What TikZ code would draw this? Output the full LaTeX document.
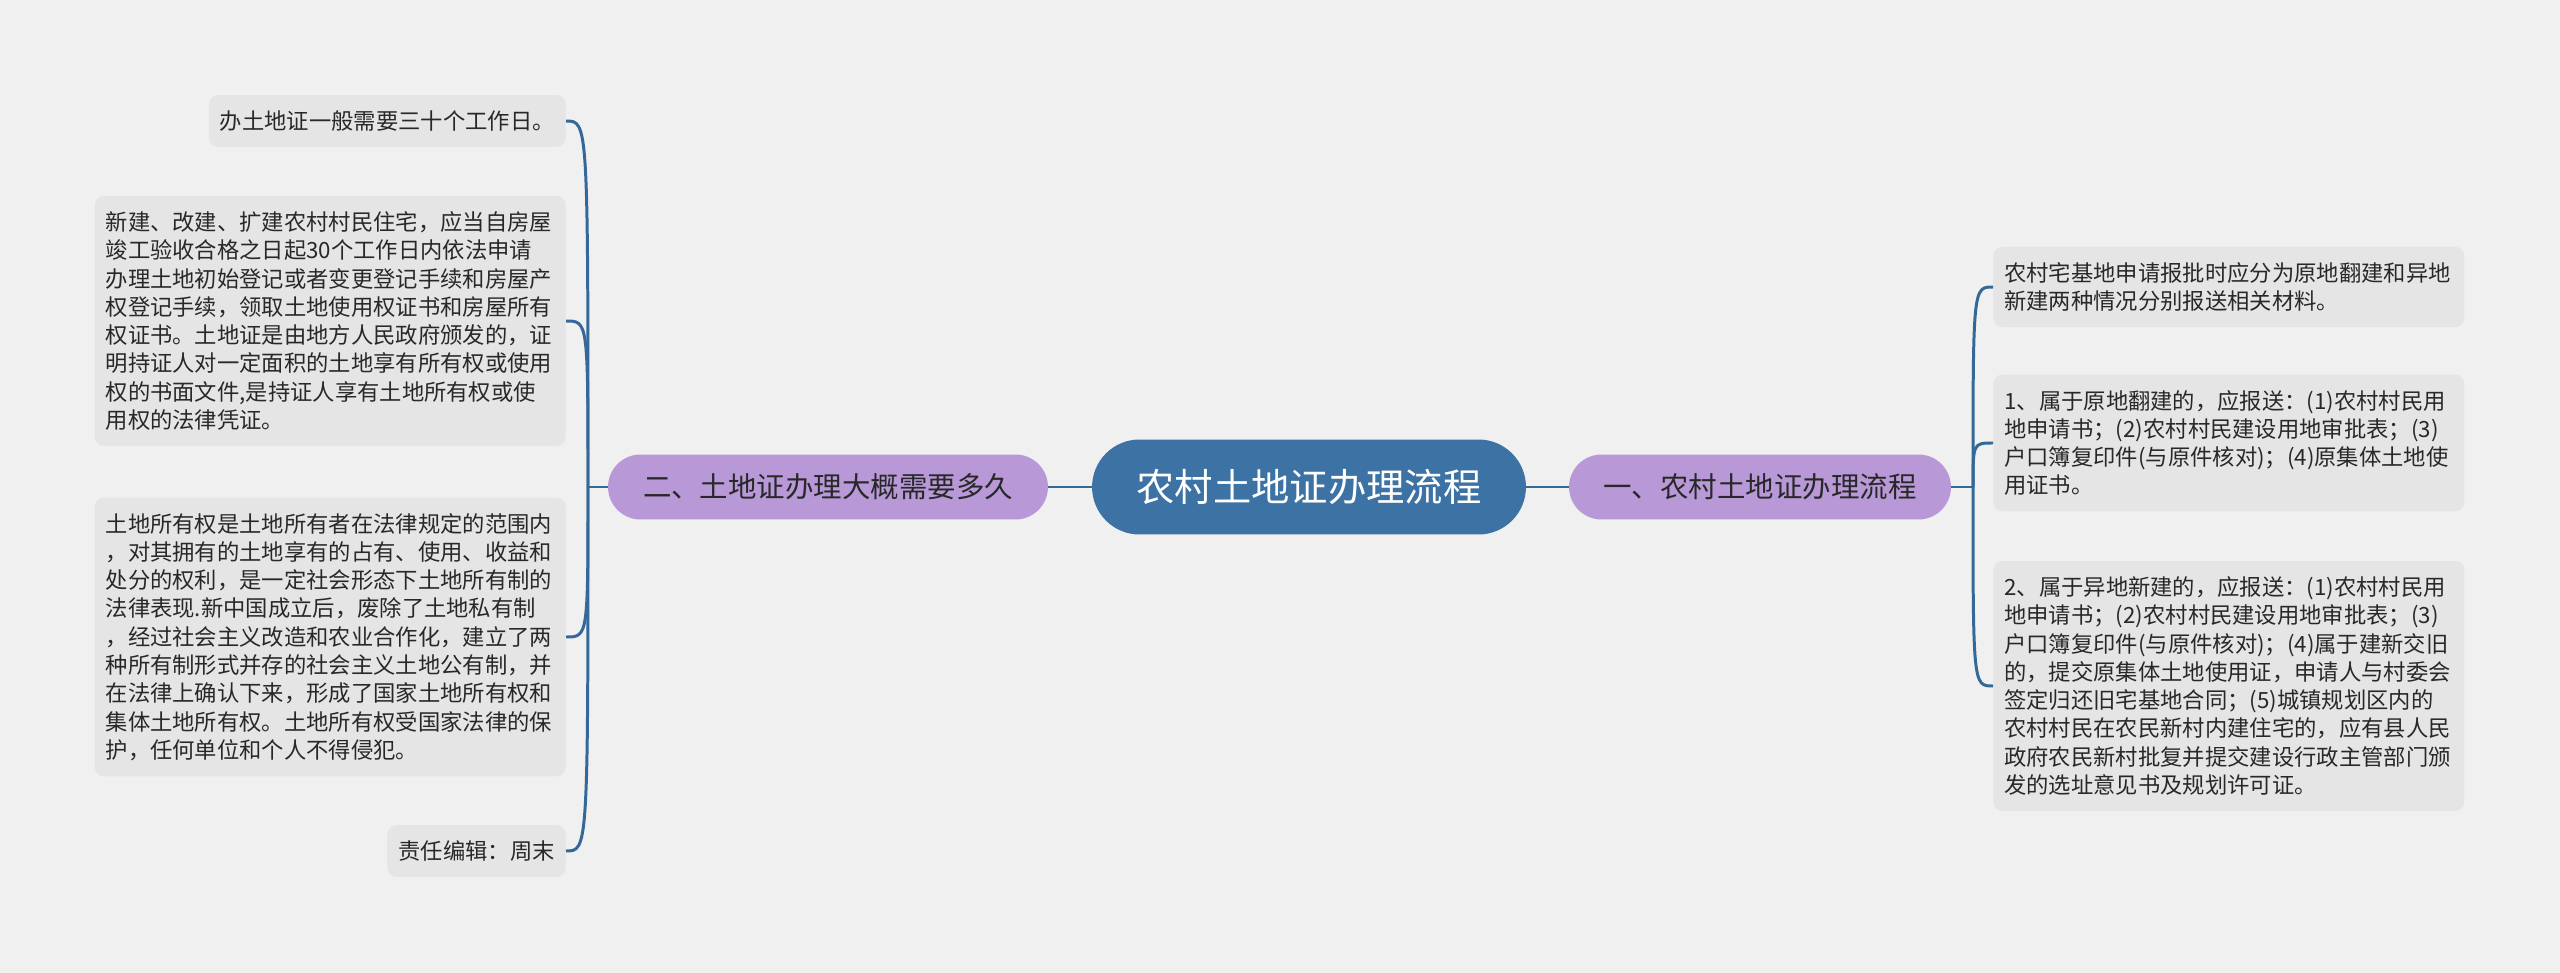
\documentclass[tikz,border=0pt]{standalone}
\usepackage{fontspec}
\setmainfont{Noto Sans CJK SC}
\usepackage{tikz}
\usetikzlibrary{positioning}
\usepackage{xcolor}
\definecolor{bgray}{RGB}{240,240,240}
\definecolor{leafgray}{RGB}{229,229,229}
\definecolor{rootblue}{RGB}{60,114,164}
\definecolor{lavender}{RGB}{184,152,215}
\definecolor{linkblue}{RGB}{52,104,152}
\definecolor{txtdark}{RGB}{40,40,40}

\begin{document}
\begin{tikzpicture}[x=0.02cm,y=-0.02cm,
leaf/.style={fill=leafgray,rounded corners=0.18cm,inner xsep=0.22cm,inner ysep=0.31cm,
  text=txtdark,font=\fontsize{12.7}{16.1}\selectfont},
para/.style={leaf,text width=8.98cm,align=left},
branch/.style={fill=lavender,rounded corners=0.65cm,minimum height=1.3cm,
  text=txtdark,font=\fontsize{16.2}{18}\selectfont},
link/.style={draw=linkblue,line width=1.7pt}]
\fill[bgray] (0,0) rectangle (2560,973);
% centre and the two main topics
\node[fill=rootblue,rounded corners=0.95cm,minimum width=8.68cm,minimum height=1.9cm,
  text=white,font=\fontsize{21.8}{24}\selectfont] (root) at (1309,487) {农村土地证办理流程};
\node[branch,minimum width=8.8cm] (lb) at (828,487) {二、土地证办理大概需要多久};
\node[branch,minimum width=7.64cm] (rb) at (1760,487) {一、农村土地证办理流程};
\coordinate (jl) at (588,487);
\coordinate (jr) at (1973,487);
% left leaves
\node[leaf,anchor=east] (l1) at (566,121) {办土地证一般需要三十个工作日。};
\node[para,anchor=east] (l2) at (566,321) {新建、改建、扩建农村村民住宅，应当自房屋\\
竣工验收合格之日起30个工作日内依法申请\\
办理土地初始登记或者变更登记手续和房屋产\\
权登记手续，领取土地使用权证书和房屋所有\\
权证书。土地证是由地方人民政府颁发的，证\\
明持证人对一定面积的土地享有所有权或使用\\
权的书面文件,是持证人享有土地所有权或使\\
用权的法律凭证。};
\node[para,anchor=east] (l3) at (566,637) {土地所有权是土地所有者在法律规定的范围内\\
，对其拥有的土地享有的占有、使用、收益和\\
处分的权利，是一定社会形态下土地所有制的\\
法律表现.新中国成立后，废除了土地私有制\\
，经过社会主义改造和农业合作化，建立了两\\
种所有制形式并存的社会主义土地公有制，并\\
在法律上确认下来，形成了国家土地所有权和\\
集体土地所有权。土地所有权受国家法律的保\\
护，任何单位和个人不得侵犯。};
\node[leaf,anchor=east] (l4) at (566,851) {责任编辑：周末};
% right leaves
\node[para,anchor=west] (r1) at (1993,287) {农村宅基地申请报批时应分为原地翻建和异地\\
新建两种情况分别报送相关材料。};
\node[para,anchor=west] (r2) at (1993,443) {1、属于原地翻建的，应报送：(1)农村村民用\\
地申请书；(2)农村村民建设用地审批表；(3)\\
户口簿复印件(与原件核对)；(4)原集体土地使\\
用证书。};
\node[para,anchor=west] (r3) at (1993,686) {2、属于异地新建的，应报送：(1)农村村民用\\
地申请书；(2)农村村民建设用地审批表；(3)\\
户口簿复印件(与原件核对)；(4)属于建新交旧\\
的，提交原集体土地使用证，申请人与村委会\\
签定归还旧宅基地合同；(5)城镇规划区内的\\
农村村民在农民新村内建住宅的，应有县人民\\
政府农民新村批复并提交建设行政主管部门颁\\
发的选址意见书及规划许可证。};
% connectors
\draw[link] (root.west) -- (lb.east);
\draw[link] (root.east) -- (rb.west);
\draw[link] (lb.west) -- (jl);
\draw[link] (rb.east) -- (jr);
\foreach \n in {l1,l2,l3,l4}
  \draw[link] (jl) .. controls (jl |- \n.east) and (jl |- \n.east) .. (\n.east);
\foreach \n in {r1,r2,r3}
  \draw[link] (jr) .. controls (jr |- \n.west) and (jr |- \n.west) .. (\n.west);
\end{tikzpicture}
\end{document}
